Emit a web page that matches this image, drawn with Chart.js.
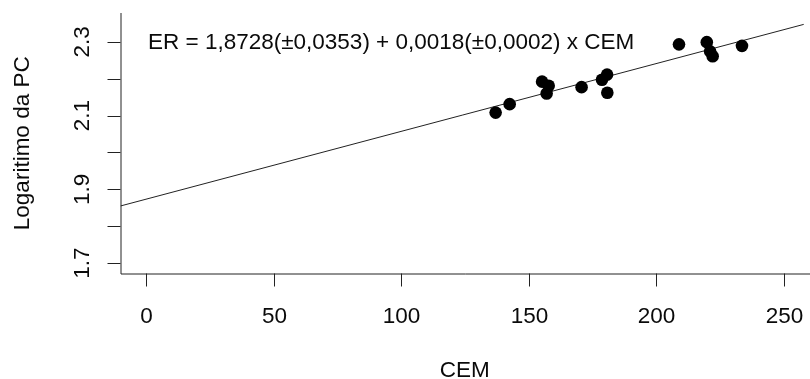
<!DOCTYPE html>
<html>
<head>
<meta charset="utf-8">
<script src="https://cdn.jsdelivr.net/npm/chart.js@4"></script>
<style>
  html, body { margin: 0; padding: 0; background: #fff; }
  #wrap { width: 810px; height: 379px; }
</style>
</head>
<body>
<div id="wrap"><canvas id="chart" width="810" height="379"></canvas></div>
<script>
// ── Data ───────────────────────────────────────────────────────────────────
const cemValues = [137.1, 142.6, 155.3, 157.9, 157.1, 170.8, 178.8, 180.8, 180.9, 209.0, 219.9, 221.2, 222.2, 233.7];
const logPC     = [2.108, 2.131, 2.192, 2.181, 2.160, 2.177, 2.197, 2.211, 2.162, 2.293, 2.299, 2.274, 2.261, 2.289];

const fitX = [-10, 260];
const fitY = [1.855, 2.351];

const xTicks       = [0, 50, 100, 150, 200, 250];
const yTicks       = [1.7, 1.8, 1.9, 2.0, 2.1, 2.2, 2.3];
const yTickLabels  = ["1.7", "1.9", "2.1", "2.3"];
const yLabelValues = [1.7, 1.9, 2.1, 2.3];

const xTitle   = "CEM";
const yTitle   = "Logaritimo da PC";
const eqText   = "ER = 1,8728(±0,0353) + 0,0018(±0,0002) x CEM";
const eqAnchor = { x: 0, y: 2.3 };

const FONT = '22.5px "Liberation Sans", Arial, sans-serif';
const INK  = "#0a0a0a";

// ── R-style axes drawn with the chart's own scales ─────────────────────────
const rAxes = {
  id: "rAxes",
  afterDraw(chart) {
    const { ctx, chartArea: a, scales: { x, y } } = chart;
    ctx.save();
    ctx.strokeStyle = "#222";
    ctx.lineWidth = 1;

    // L-shaped box
    ctx.beginPath();
    ctx.moveTo(a.left + 0.5, a.top);
    ctx.lineTo(a.left + 0.5, a.bottom + 0.5);
    ctx.lineTo(chart.width, a.bottom + 0.5);
    ctx.stroke();

    // x ticks + labels
    ctx.font = FONT;
    ctx.fillStyle = INK;
    ctx.textAlign = "center";
    ctx.textBaseline = "alphabetic";
    xTicks.forEach(v => {
      const px = Math.round(x.getPixelForValue(v)) + 0.5;
      ctx.beginPath();
      ctx.moveTo(px, a.bottom);
      ctx.lineTo(px, a.bottom + 13);
      ctx.stroke();
      ctx.fillText(String(v), px, a.bottom + 49);
    });

    // y ticks
    yTicks.forEach(v => {
      const py = Math.round(y.getPixelForValue(v)) + 0.5;
      ctx.beginPath();
      ctx.moveTo(a.left - 13, py);
      ctx.lineTo(a.left, py);
      ctx.stroke();
    });

    // y tick labels, rotated like R (las = 0)
    yLabelValues.forEach((v, i) => {
      const py = y.getPixelForValue(v);
      ctx.save();
      ctx.translate(a.left - 32, py);
      ctx.rotate(-Math.PI / 2);
      ctx.fillText(yTickLabels[i], 0, 0);
      ctx.restore();
    });

    // axis titles
    ctx.fillText(xTitle, (a.left + x.getPixelForValue(260)) / 2, 377);
    ctx.save();
    ctx.translate(29, (a.top + a.bottom) / 2);
    ctx.rotate(-Math.PI / 2);
    ctx.fillText(yTitle, 0, 0);
    ctx.restore();

    // equation
    ctx.textAlign = "left";
    ctx.textBaseline = "middle";
    ctx.fillText(eqText, x.getPixelForValue(eqAnchor.x) + 2, y.getPixelForValue(eqAnchor.y) + 1);

    ctx.restore();
  }
};

// ── Chart ──────────────────────────────────────────────────────────────────
const ctx = document.getElementById("chart").getContext("2d");
new Chart(ctx, {
  type: "scatter",
  data: {
    datasets: [
      {
        label: "Regressão",
        type: "line",
        data: fitX.map((v, i) => ({ x: v, y: fitY[i] })),
        borderColor: "#222",
        borderWidth: 1,
        pointRadius: 0,
        fill: false,
        order: 2,
      },
      {
        label: "Dados",
        data: cemValues.map((v, i) => ({ x: v, y: logPC[i] })),
        backgroundColor: "#000",
        borderColor: "#000",
        borderWidth: 0,
        pointRadius: 6.3,
        order: 1,
      },
    ],
  },
  options: {
    responsive: false,
    animation: false,
    layout: { padding: { left: 120.5, right: 0, top: 13, bottom: 105.5 } },
    plugins: { legend: { display: false }, tooltip: { enabled: false } },
    scales: {
      x: { type: "linear", min: -10, max: 257.9, display: false },
      y: { type: "linear", min: 1.672, max: 2.378, display: false },
    },
  },
  plugins: [rAxes],
});
</script>
</body>
</html>
